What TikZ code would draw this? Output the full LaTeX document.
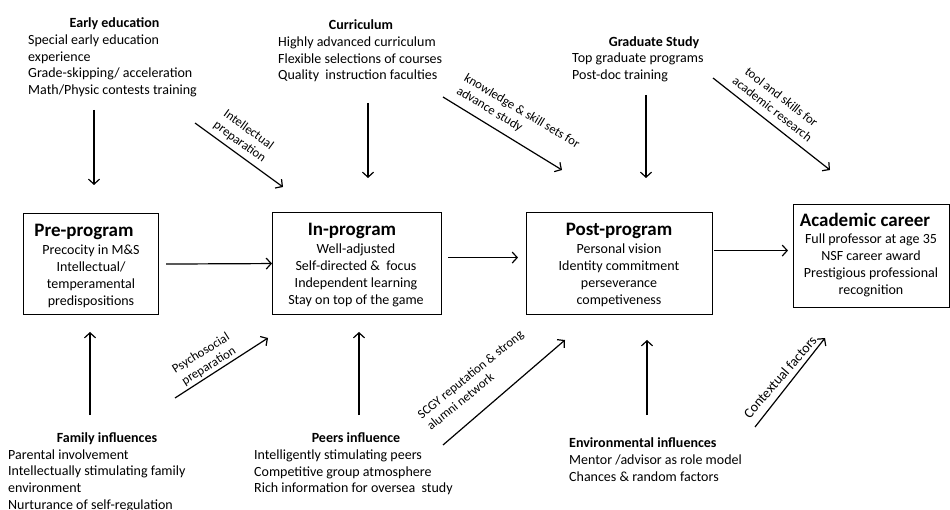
\documentclass[tikz,border=0pt]{standalone}
\usepackage{fontspec}
\setmainfont{Carlito}
\usetikzlibrary{arrows.meta}
\begin{document}
\begin{tikzpicture}[x=1pt,y=-1pt,
  ttl/.style={font=\fontsize{14}{16.7}\selectfont\bfseries, inner sep=0, anchor=base},
  lst/.style={font=\fontsize{14}{16.7}\selectfont, inner sep=0, anchor=base west},
  bigttl/.style={font=\fontsize{19}{20}\selectfont\bfseries, inner sep=0, anchor=base},
  boxtxt/.style={font=\fontsize{14}{17}\selectfont, inner sep=0, anchor=base},
  stage/.style={draw, line width=1.1pt, inner sep=0, anchor=north west},
  arr/.style={line width=1.2pt, -{Straight Barb[length=5pt,width=11pt]}},
  lbl/.style={font=\fontsize{12.8}{15}\selectfont, inner sep=0}
]
\fill[white] (0,0) rectangle (950,510);
\useasboundingbox (0,0) rectangle (950,510);

% stage boxes
\node[stage, minimum width=135pt, minimum height=101pt] (pre) at (23,213) {};
\node[bigttl] (preT) at (84,237) {Pre-program};
\node[boxtxt] (preL) at (91,255) {\begin{tabular}[t]{@{}c@{}}Precocity in M\&S\\Intellectual/\\temperamental\\predispositions\end{tabular}};

\node[stage, minimum width=169pt, minimum height=102pt] (in) at (272,212) {};
\node[bigttl] (inT) at (352,236) {In-program};
\node[boxtxt] (inL) at (356,254) {\begin{tabular}[t]{@{}c@{}}Well-adjusted\\Self-directed \&~ focus\\Independent learning\\Stay on top of the game\end{tabular}};

\node[stage, minimum width=186pt, minimum height=102pt] (post) at (526,212) {};
\node[bigttl] (postT) at (619,236) {Post-program};
\node[boxtxt] (postL) at (619,254) {\begin{tabular}[t]{@{}c@{}}Personal vision\\Identity commitment\\perseverance\\competiveness\end{tabular}};

\node[stage, minimum width=156pt, minimum height=103pt] (acad) at (793,204) {};
\node[bigttl] (acadT) at (865,227) {Academic career};
\node[boxtxt] (acadL) at (871,244) {\begin{tabular}[t]{@{}c@{}}Full professor at age 35\\NSF career award\\Prestigious professional\\recognition\end{tabular}};

% top influences
\node[ttl] (earlyT) at (114.5,27.5) {Early education};
\node[lst] (early) at (28,44.5) {\begin{tabular}[t]{@{}l@{}}Special early education\\experience\\Grade-skipping/ acceleration\\Math/Physic contests training\end{tabular}};
\node[ttl] (currT) at (361,29.5) {Curriculum};
\node[lst] (curr) at (278,46.5) {\begin{tabular}[t]{@{}l@{}}Highly advanced curriculum\\Flexible selections of courses\\Quality~ instruction faculties\end{tabular}};
\node[ttl] (gradT) at (654,46.5) {Graduate Study};
\node[lst] (grad) at (572,62.5) {\begin{tabular}[t]{@{}l@{}}Top graduate programs\\Post-doc training\end{tabular}};

% bottom influences
\node[ttl] (famT) at (107,442.5) {Family influences};
\node[lst] (fam) at (8,459) {\begin{tabular}[t]{@{}l@{}}Parental involvement\\Intellectually stimulating family\\environment\\Nurturance of self-regulation\end{tabular}};
\node[ttl] (peerT) at (356,442.5) {Peers influence};
\node[lst] (peer) at (254,459.5) {\begin{tabular}[t]{@{}l@{}}Intelligently stimulating peers\\Competitive group atmosphere\\Rich information for oversea~ study\end{tabular}};
\node[ttl, anchor=base west] (envT) at (569,447.5) {Environmental influences};
\node[lst] (env) at (569,464.5) {\begin{tabular}[t]{@{}l@{}}Mentor /advisor as role model\\Chances \& random factors\end{tabular}};

% arrow end points
\coordinate (e1) at (94,110);  \coordinate (e2) at (94,185);
\coordinate (c1) at (368,103); \coordinate (c2) at (368,178);
\coordinate (g1) at (646,95);  \coordinate (g2) at (646,178);
\coordinate (i1) at (195,123); \coordinate (i2) at (283,187);
\coordinate (k1) at (443,97);  \coordinate (k2) at (562,170);
\coordinate (t1) at (713,78);  \coordinate (t2) at (830,170);
\coordinate (f1) at (90,415);  \coordinate (f2) at (90,332);
\coordinate (p1) at (175,398); \coordinate (p2) at (268,338);
\coordinate (q1) at (359,415); \coordinate (q2) at (359,332);
\coordinate (s1) at (443,445); \coordinate (s2) at (565,340);
\coordinate (v1) at (647,415); \coordinate (v2) at (647,340);
\coordinate (x1) at (755,427); \coordinate (x2) at (825,338);

% main flow
\draw[arr] ([xshift=7pt]pre.east) -- (in.west);
\draw[arr] ([xshift=6pt,yshift=6pt]in.east) -- ([xshift=-8pt,yshift=6pt]post.west);
\draw[arr] ([xshift=1pt,yshift=13pt]post.east) -- ([xshift=-5pt,yshift=5.5pt]acad.west);

% influence arrows
\draw[arr] (e1) -- (e2);
\draw[arr] (c1) -- (c2);
\draw[arr] (g1) -- (g2);
\draw[arr] (i1) -- (i2);
\draw[arr] (k1) -- (k2);
\draw[arr] (t1) -- (t2);
\draw[arr] (f1) -- (f2);
\draw[arr] (p1) -- (p2);
\draw[arr] (q1) -- (q2);
\draw[arr] (s1) -- (s2);
\draw[arr] (v1) -- (v2);
\draw[arr] (x1) -- (x2);

% arrow labels
\node[lbl, align=center, rotate=-36] (iL) at (244,136) {Intellectual\\preparation};
\node[lbl, align=left, rotate=-31] (kL) at (518,118) {knowledge \& skill sets for\\advance study};
\node[lbl, align=center, rotate=-38] (tL) at (777,103) {tool and skills for\\academic research};
\node[lbl, align=center, rotate=32] (pL) at (205,360) {Psychosocial\\preparation};
\node[lbl, align=left, rotate=39] (sL) at (475,380) {SCGY reputation \& strong\\alumni network};
\node[lbl, font=\fontsize{14}{16}\selectfont, rotate=49] (xL) at (780,377) {Contextual factors};
\end{tikzpicture}
\end{document}
